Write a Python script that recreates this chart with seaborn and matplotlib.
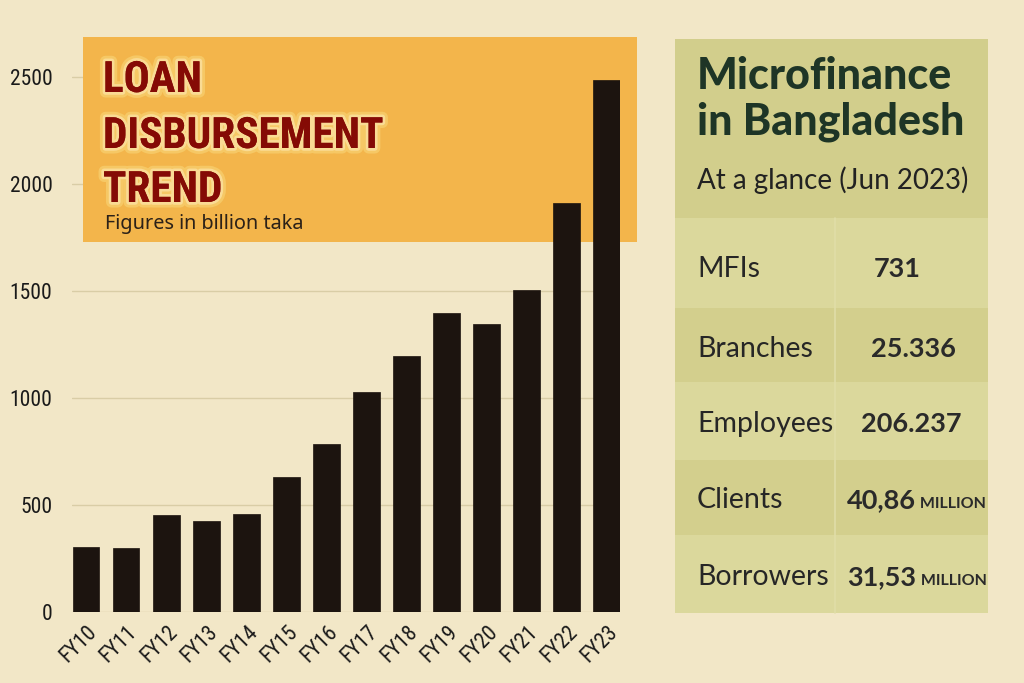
import matplotlib
matplotlib.use("Agg")
import matplotlib.pyplot as plt
import matplotlib.patheffects as pe
from matplotlib.patches import Rectangle
from matplotlib.transforms import ScaledTranslation
from matplotlib import font_manager
import seaborn as sns
import pandas as pd

# ---------------- data ----------------
years = ["FY10", "FY11", "FY12", "FY13", "FY14", "FY15", "FY16",
         "FY17", "FY18", "FY19", "FY20", "FY21", "FY22", "FY23"]
disbursement = [304, 299, 452, 427, 458, 629, 783,
                1028, 1198, 1399, 1346, 1506, 1913, 2487]
y_ticks = [0, 500, 1000, 1500, 2000, 2500]

panel_labels = ["MFIs", "Branches", "Employees", "Clients", "Borrowers"]
panel_values = ["731", "25.336", "206.237", "40,86", "31,53"]
panel_units = ["", "", "", "MILLION", "MILLION"]

# ---------------- style ----------------
BG = "#F2E7C7"
BAR = "#1C140F"
ORANGE = "#F3B54B"
GRID = "#D9CDA6"
G_HEAD = "#D2CE8C"
G_LIGHT = "#DBD89C"
G_DARK = "#D3CF8D"

installed = {f.name for f in font_manager.fontManager.ttflist}
narrow_pref = ["Liberation Sans Narrow", "Roboto Condensed", "DejaVu Sans Condensed",
               "Liberation Sans", "DejaVu Sans"]
NARROW = [f for f in narrow_pref if f in installed][:1] + ["DejaVu Sans"]

sns.set_style("white")
plt.rcParams["font.family"] = ["Lato", "DejaVu Sans"]

W, H = 1024, 683
fig = plt.figure(figsize=(W / 100, H / 100), dpi=100, facecolor=BG)


def fx(px):
    return px / W


def fy(py):
    return 1 - py / H


# axes: x 72..620 px, y 30..612 px
ax = fig.add_axes([fx(72), fy(612), fx(620) - fx(72), fy(30) - fy(612)])
ax.set_facecolor("none")

df = pd.DataFrame({"year": years, "value": disbursement})
sns.barplot(data=df, x="year", y="value", color=BAR, saturation=1,
            width=0.67, ax=ax, zorder=3, edgecolor=BAR, linewidth=0.5)
ax.set_xlim(-0.35, 13.33)
ax.set_ylim(0, 2720)
ax.set_yticks(y_ticks)
ax.set_yticklabels([str(t) for t in y_ticks])
ax.set_xlabel("")
ax.set_ylabel("")
for s in ax.spines.values():
    s.set_visible(False)
ax.set_axisbelow(True)
ax.yaxis.grid(True, color=GRID, linewidth=1)
ax.xaxis.grid(False)
ax.tick_params(axis="both", length=0)
ax.tick_params(axis="y", pad=14)
ax.tick_params(axis="x", pad=12)
for lab in ax.get_yticklabels():
    lab.set_fontfamily(NARROW)
    lab.set_fontsize(15.5)
    lab.set_color("#1a1a1a")
shift = ScaledTranslation(8 / 100, 0, fig.dpi_scale_trans)
for lab in ax.get_xticklabels():
    lab.set_fontfamily(NARROW)
    lab.set_fontsize(15.5)
    lab.set_color("#1a1a1a")
    lab.set_rotation(45)
    lab.set_ha("right")
    lab.set_va("center")
    lab.set_rotation_mode("anchor")
    lab.set_transform(lab.get_transform() + shift)

# orange title box (behind bars, above grid)
box = Rectangle((fx(83), fy(242)), fx(637) - fx(83), fy(37) - fy(242),
                transform=fig.transFigure, facecolor=ORANGE, edgecolor="none",
                zorder=1.5, clip_on=False)
ax.add_patch(box)

fig.canvas.draw()
rend = fig.canvas.get_renderer()

# size the title so that DISBURSEMENT spans ~280 px
probe = fig.text(0, 0, "DISBURSEMENT", fontfamily=NARROW, fontweight="bold", fontsize=30)
pw = probe.get_window_extent(rend).width
probe.remove()
title_fs = 30 * 280 / pw

glow = [pe.withStroke(linewidth=8, foreground="#F6C865"),
        pe.withStroke(linewidth=4, foreground="#FADB94"), pe.Normal()]
for txt, base in [("LOAN", 92), ("DISBURSEMENT", 148), ("TREND", 202)]:
    fig.text(fx(103), fy(base), txt, fontfamily=NARROW, fontweight="bold",
             fontsize=title_fs, color="#850B05", va="baseline", ha="left",
             path_effects=glow, zorder=5)
fig.text(fx(105), fy(229), "Figures in billion taka", fontfamily=["Noto Sans", "DejaVu Sans"],
         fontsize=14.3, color="#2B2118", va="baseline", ha="left", zorder=5)

# ---------------- right panel ----------------
px0, px1 = 675, 988
rows = [(218, 308, G_LIGHT), (308, 382, G_DARK), (382, 460, G_LIGHT),
        (460, 535, G_DARK), (535, 613, G_LIGHT)]
row_baselines = [277, 357, 432, 508, 585]
value_centers = [897, 913, 911, 916, 917]
fig.add_artist(Rectangle((fx(px0), fy(218)), fx(px1) - fx(px0), fy(39) - fy(218),
                         transform=fig.transFigure, facecolor=G_HEAD,
                         edgecolor="none", zorder=1))
for top, bot, col in rows:
    fig.add_artist(Rectangle((fx(px0), fy(bot)), fx(px1) - fx(px0), fy(top) - fy(bot),
                             transform=fig.transFigure, facecolor=col,
                             edgecolor="none", zorder=1))
fig.add_artist(plt.Line2D([fx(835), fx(835)], [fy(218), fy(613)],
                          transform=fig.transFigure, color="#E0DDA8",
                          linewidth=1.2, zorder=2))

TITLE_G = "#1E3526"
fig.text(fx(697), fy(89), "Microfinance", fontsize=31, fontweight="black",
         color=TITLE_G, va="baseline", ha="left", zorder=5)
fig.text(fx(697), fy(135), "in Bangladesh", fontsize=31, fontweight="black",
         color=TITLE_G, va="baseline", ha="left", zorder=5)
fig.text(fx(697), fy(189), "At a glance (Jun 2023)", fontsize=20,
         color="#222222", va="baseline", ha="left", zorder=5)

for base, lab, val, unit, cx in zip(row_baselines, panel_labels, panel_values,
                                    panel_units, value_centers):
    fig.text(fx(697), fy(base), lab, fontsize=20.5, color="#262626",
             va="baseline", ha="left", zorder=5)
    tv = fig.text(0, fy(base), val, fontsize=19.5, fontweight="bold",
                  color="#2a2a2a", va="baseline", ha="left", zorder=5)
    wv = tv.get_window_extent(rend).width
    if unit:
        tu = fig.text(0, fy(base), " " + unit, fontsize=11.5, fontweight="bold",
                      color="#2a2a2a", va="baseline", ha="left", zorder=5)
        wu = tu.get_window_extent(rend).width
    else:
        wu = 0
    left = cx - (wv + wu) / 2
    tv.set_x(fx(left))
    if unit:
        tu.set_x(fx(left + wv))

fig.savefig("out.png", dpi=100, facecolor=BG)
